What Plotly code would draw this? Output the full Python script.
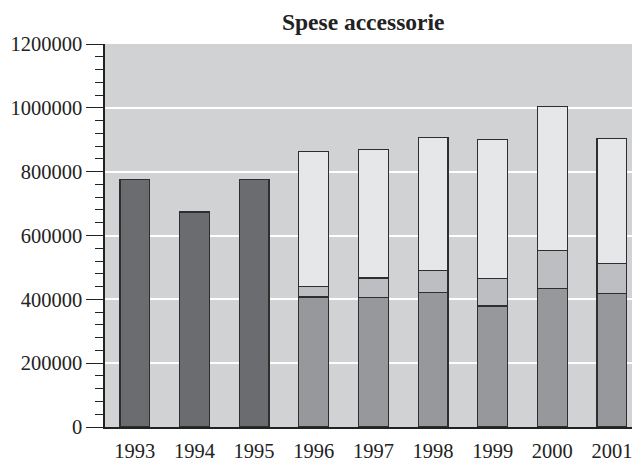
import plotly.graph_objects as go

years = ["1993", "1994", "1995", "1996", "1997", "1998", "1999", "2000", "2001"]

# totale (solo 1993-1995)
totale = [776700, 673700, 776700, None, None, None, None, None, None]
# componenti 1996-2001
base = [None, None, None, 407400, 405500, 422000, 379300, 433600, 418000]
medio = [None, None, None, 32400, 61100, 68600, 86400, 118500, 93500]
alto = [None, None, None, 424200, 403600, 417100, 435700, 452300, 393100]

line = dict(color="#2e2e2e", width=1.2)
fig = go.Figure()
fig.add_trace(go.Bar(x=years, y=totale, marker=dict(color="#6b6c6f", line=line), width=0.5))
fig.add_trace(go.Bar(x=years, y=base, marker=dict(color="#97989b", line=line), width=0.5))
fig.add_trace(go.Bar(x=years, y=medio, marker=dict(color="#bdbec1", line=line), width=0.5))
fig.add_trace(go.Bar(x=years, y=alto, marker=dict(color="#e6e7e9", line=line), width=0.5))

# la pagina ha 8px di margine: figura 632x454
fig.update_layout(
    barmode="stack",
    width=632, height=454,
    margin=dict(l=97, r=0, t=36, b=35),
    paper_bgcolor="white",
    plot_bgcolor="#d1d2d4",
    showlegend=False,
    font=dict(family="Liberation Serif", size=20.5, color="#222222"),
    title=dict(text="<b>Spese accessorie</b>", x=0.562, xanchor="center",
               y=0.969, yanchor="middle", font=dict(size=23.5)),
)
fig.update_xaxes(
    range=[-0.5, 8.47], showgrid=False, showline=True, linecolor="#222222",
    linewidth=1.5, ticks="", ticklabelstandoff=5,
)
fig.update_yaxes(
    range=[0, 1200000], dtick=200000, tickformat="d",
    showgrid=True, gridcolor="white", gridwidth=1.5, zeroline=False,
    showline=True, linecolor="#222222", linewidth=1.5,
    ticks="outside", ticklen=17, tickcolor="#222222", tickwidth=1.2,
    minor=dict(dtick=40000, ticks="outside", ticklen=8, tickcolor="#222222",
               tickwidth=1.2, showgrid=False),
)
fig.write_html("out.html")
